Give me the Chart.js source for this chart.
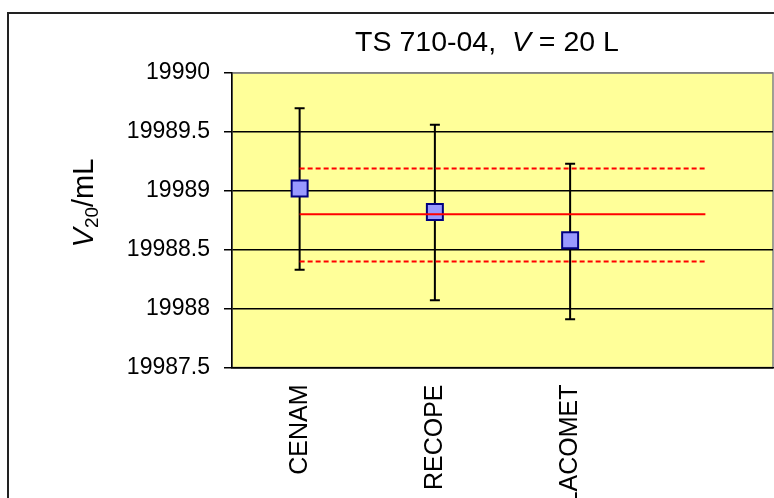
<!DOCTYPE html>
<html>
<head>
<meta charset="utf-8">
<script src="https://cdn.jsdelivr.net/npm/chart.js@4.4.1/dist/chart.umd.min.js"></script>
<style>
  html, body { margin: 0; padding: 0; background: #fff; overflow: hidden; }
  #wrap { position: relative; width: 774px; height: 498px; }
  #frame { position: absolute; left: 7px; top: 12px; width: 820px; height: 540px;
           border: 2px solid #222; box-sizing: border-box; }
  canvas { position: absolute; left: 0; top: 0; }
</style>
</head>
<body>
<div id="wrap">
  <div id="frame"></div>
  <canvas id="chart" width="774" height="498"></canvas>
</div>
<script>
// lab results and error bars
const labs = ['CENAM', 'RECOPE', 'LACOMET', ''];
const values = [19989.02, 19988.82, 19988.58];
const errHigh = [19989.70, 19989.56, 19989.23];
const errLow = [19988.33, 19988.07, 19987.91];

// reference value and its band
const refMean = 19988.80;
const refUpper = 19989.19;
const refLower = 19988.40;

const yTicks = [19987.5, 19988, 19988.5, 19989, 19989.5, 19990];

const FONT = "'Liberation Sans', Arial, sans-serif";

const plotBg = {
  id: 'plotBg',
  beforeDraw(chart) {
    const { ctx, chartArea: a } = chart;
    ctx.save();
    ctx.fillStyle = '#FFFF99';
    ctx.fillRect(a.left, a.top, a.right - a.left, a.bottom - a.top);
    ctx.strokeStyle = '#808080';
    ctx.lineWidth = 1.5;
    ctx.strokeRect(a.left, a.top, a.right - a.left, a.bottom - a.top);
    ctx.restore();
  }
};

const errorBars = {
  id: 'errorBars',
  beforeDatasetsDraw(chart) {
    const { ctx, scales: { x, y } } = chart;
    ctx.save();
    ctx.strokeStyle = '#000';
    ctx.lineWidth = 2;
    values.forEach((v, i) => {
      const px = x.getPixelForValue(i);
      const top = y.getPixelForValue(errHigh[i]);
      const bot = y.getPixelForValue(errLow[i]);
      ctx.beginPath();
      ctx.moveTo(px, top); ctx.lineTo(px, bot);
      ctx.moveTo(px - 5, top); ctx.lineTo(px + 5, top);
      ctx.moveTo(px - 5, bot); ctx.lineTo(px + 5, bot);
      ctx.stroke();
    });
    ctx.restore();
  }
};

// draws runs of text with different fonts one after another
function drawRuns(ctx, runs, x, y, align) {
  let total = 0;
  runs.forEach(r => { ctx.font = r.font; total += ctx.measureText(r.text).width; });
  let cx = align === 'center' ? x - total / 2 : x;
  runs.forEach(r => {
    ctx.font = r.font;
    ctx.fillText(r.text, cx, y + (r.dy || 0));
    cx += ctx.measureText(r.text).width;
  });
}

const titles = {
  id: 'titles',
  afterDraw(chart) {
    const { ctx } = chart;
    ctx.save();
    ctx.fillStyle = '#000';
    ctx.textAlign = 'left';
    ctx.textBaseline = 'alphabetic';
    drawRuns(ctx, [
      { text: 'TS 710-04,  ', font: '28.5px ' + FONT },
      { text: 'V', font: 'italic 28.5px ' + FONT },
      { text: ' = 20 L', font: '28.5px ' + FONT }
    ], 487, 51, 'center');

    ctx.translate(93, 203);
    ctx.rotate(-Math.PI / 2);
    drawRuns(ctx, [
      { text: 'V', font: 'italic 29px ' + FONT },
      { text: '20', font: '19px ' + FONT, dy: 5 },
      { text: '/mL', font: '29px ' + FONT }
    ], 0, 0, 'center');
    ctx.restore();
  }
};

new Chart(document.getElementById('chart'), {
  type: 'line',
  data: {
    labels: labs,
    datasets: [
      {
        data: labs.map(() => refUpper),
        borderColor: '#FF0000', borderWidth: 2, borderDash: [5, 3],
        pointRadius: 0, fill: false
      },
      {
        data: labs.map(() => refMean),
        borderColor: '#FF0000', borderWidth: 2,
        pointRadius: 0, fill: false
      },
      {
        data: labs.map(() => refLower),
        borderColor: '#FF0000', borderWidth: 2, borderDash: [5, 3],
        pointRadius: 0, fill: false
      },
      {
        data: values,
        showLine: false,
        pointStyle: 'rect',
        pointRadius: 11.3,
        pointBackgroundColor: '#9999FF',
        pointBorderColor: '#000080',
        pointBorderWidth: 2
      }
    ]
  },
  options: {
    responsive: false,
    animation: false,
    events: [],
    layout: { autoPadding: false, padding: { top: 73, left: 0, right: 1, bottom: 0 } },
    plugins: { legend: { display: false }, tooltip: { enabled: false } },
    scales: {
      x: {
        type: 'category',
        offset: true,
        afterFit: s => { s.height = 130.5; s.paddingLeft = 0; s.paddingRight = 0; },
        grid: { display: false, drawTicks: false },
        border: { color: '#000', width: 1.5 },
        ticks: {
          minRotation: 90, maxRotation: 90, autoSkip: false,
          padding: 17, color: '#000',
          font: { family: FONT, size: 25 }
        }
      },
      y: {
        min: 19987.5,
        max: 19990,
        afterFit: s => { s.width = 232; s.paddingTop = 0; s.paddingBottom = 0; },
        afterBuildTicks: s => { s.ticks = yTicks.map(v => ({ value: v })); },
        grid: {
          color: c => (c.tick && c.tick.value === 19990 ? '#808080' : '#000'),
          lineWidth: 1.5,
          tickLength: 8,
          tickColor: '#000'
        },
        border: { color: '#000', width: 1.5 },
        ticks: {
          padding: 14, color: '#000',
          font: { family: FONT, size: 23 },
          callback: v => String(v)
        }
      }
    }
  },
  plugins: [plotBg, errorBars, titles]
});
</script>
</body>
</html>
